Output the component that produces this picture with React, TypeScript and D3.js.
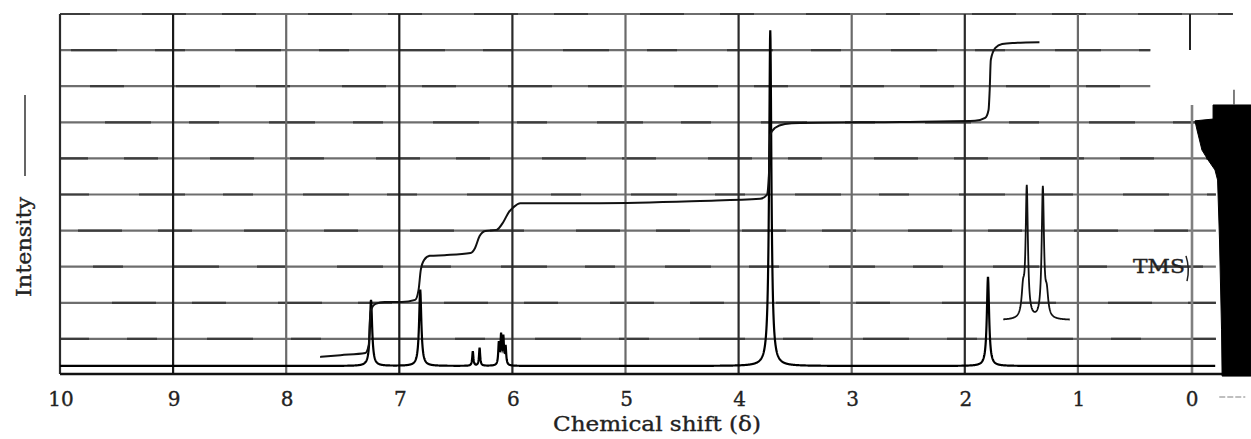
import React from "react";
import * as d3 from "d3";

// ---- data ----
const ppmTicks = [10, 9, 8, 7, 6, 5, 4, 3, 2, 1, 0];
const gridLevels = [1, 2, 3, 4, 5, 6, 7, 8, 9, 10];
const spectrumBaseline = 0.25;

// main spectrum peaks (ppm, height above baseline, half width in ppm)
const peakPpm = [7.25, 6.815, 6.35, 6.29, 6.12, 6.1, 6.08, 6.06, 3.72, 1.795];
const peakHeight = [1.83, 2.1, 0.4, 0.5, 0.6, 0.8, 0.75, 0.5, 9.3, 2.46];
const peakWidth = [0.012, 0.012, 0.006, 0.006, 0.006, 0.006, 0.006, 0.006, 0.012, 0.012];

// expanded inset multiplet
const insetRange = [1.66, 1.07];
const insetBaseline = 1.52;
const insetPpm = [1.452, 1.31, 1.485, 1.275];
const insetHeight = [3.6, 3.6, 0.7, 0.6];
const insetWidth = [0.012, 0.012, 0.015, 0.015];

// integral trace
const integralPpm = [7.7, 7.52, 7.3, 7.27, 7.26, 7.25, 7.21, 7.13, 6.98, 6.86, 6.83, 6.81, 6.78, 6.73, 6.6, 6.37, 6.33, 6.29, 6.24, 6.14, 6.08, 6.03, 5.99, 5.93, 5.23, 4.34, 3.81, 3.75, 3.73, 3.72, 3.68, 3.59, 3.46, 2.57, 1.91, 1.82, 1.79, 1.78, 1.77, 1.73, 1.67, 1.56, 1.34];
const integralValue = [0.5, 0.55, 0.61, 0.83, 1.52, 1.8, 1.97, 2.02, 2.02, 2.08, 2.35, 2.91, 3.19, 3.3, 3.32, 3.38, 3.52, 3.85, 3.99, 4.02, 4.24, 4.52, 4.65, 4.76, 4.76, 4.82, 4.88, 4.99, 5.68, 6.65, 6.84, 6.95, 6.98, 7.01, 7.04, 7.12, 7.34, 7.89, 8.73, 9.06, 9.17, 9.2, 9.22];

// dark recorder-overflow region right of TMS (outline, clockwise)
const shadePpm = [-0.195, -0.53, -0.53, -0.275, -0.27, -0.252, -0.235, -0.212, -0.15, -0.097, -0.053, -0.035, -0.195];
const shadeValue = [7.48, 7.48, -0.03, -0.03, 1.25, 3.74, 5.4, 5.68, 5.96, 6.23, 6.79, 7.04, 7.09];

const xTitle = "Chemical shift (δ)";
const yTitle = "Intensity";
const tmsLabel = "TMS";

const W = 1251;
const H = 439;

export default function App() {
  const x = d3.scaleLinear().domain([10, 0]).range([60, 1191]);
  const y = d3.scaleLinear().domain([0, 10]).range([375, 14]);

  const lorentz = (p: number, ps: number[], hs: number[], ws: number[]) =>
    ps.reduce((s, c, i) => s + (hs[i] * ws[i] * ws[i]) / ((p - c) * (p - c) + ws[i] * ws[i]), 0);

  const samples = d3.range(10, -0.215, -0.002);
  const spec = samples.map((p) => [p, spectrumBaseline + lorentz(p, peakPpm, peakHeight, peakWidth)] as [number, number]);
  const insetSamples = d3.range(insetRange[0], insetRange[1], -0.002);
  const inset = insetSamples.map((p) => [p, insetBaseline + lorentz(p, insetPpm, insetHeight, insetWidth)] as [number, number]);

  const line = d3
    .line<[number, number]>()
    .x((d) => x(d[0]))
    .y((d) => y(d[1]));
  const smooth = d3
    .line<[number, number]>()
    .x((d) => x(d[0]))
    .y((d) => y(d[1]))
    .curve(d3.curveMonotoneX);

  const integral = integralPpm.map((p, i) => [p, integralValue[i]] as [number, number]);
  const shade = shadePpm.map((p, i) => [p, shadeValue[i]] as [number, number]);

  const left = x(10);
  const axisY = y(0) - 1;
  const font = "'DejaVu Serif', serif";
  const textStyle = { stroke: "#222", strokeWidth: 0.35 };

  return (
    <svg width={W} height={H} style={{ position: "absolute", left: 0, top: 0, background: "#fff" }}>
      <rect x={0} y={0} width={W} height={H} fill="#fff" />
      {/* horizontal grid: gray base plus slightly darker pen segments */}
      {gridLevels.map((g) => {
        const x2 = g === 10 ? x(-0.37) : g >= 8 ? x(0.36) : x(-0.22);
        return (
          <g key={"h" + g}>
            <line x1={left} x2={x2} y1={y(g)} y2={y(g)} stroke="#6e6e6e" strokeWidth={2.2} />
            <line
              x1={left}
              x2={x2}
              y1={y(g)}
              y2={y(g)}
              stroke="#3c3c3c"
              strokeWidth={2.2}
              strokeDasharray={g % 2 ? "46,38,30,50" : "34,52,44,36"}
              strokeDashoffset={g * 17}
            />
          </g>
        );
      })}
      {/* vertical grid */}
      {ppmTicks.map((t) =>
        t === 0 ? (
          <g key={"v" + t}>
            <line x1={x(t) + 1} x2={x(t) + 1} y1={y(7.48)} y2={axisY} stroke="#808080" strokeWidth={2.6} />
            <line x1={x(t) - 1} x2={x(t) - 1} y1={y(10)} y2={y(9)} stroke="#222" strokeWidth={2} />
          </g>
        ) : (
          <line
            key={"v" + t}
            x1={x(t)}
            x2={x(t)}
            y1={y(10)}
            y2={axisY}
            stroke={t % 2 === 0 && t !== 8 ? "#2a2a2a" : t === 9 || t === 7 ? "#1a1a1a" : "#6a6a6a"}
            strokeWidth={2.2}
          />
        )
      )}
      {/* bottom axis line */}
      <line x1={left} x2={x(-0.28)} y1={axisY} y2={axisY} stroke="#111" strokeWidth={2.6} />
      {/* spectrum */}
      <path d={line(spec) || ""} fill="none" stroke="#000" strokeWidth={2.2} />
      {/* inset */}
      <path d={line(inset) || ""} fill="none" stroke="#111" strokeWidth={1.8} />
      {/* integral */}
      <path d={smooth(integral) || ""} fill="none" stroke="#111" strokeWidth={2} />
      {/* dark region */}
      <path d={(line(shade) || "") + "Z"} fill="#000" stroke="#000" strokeWidth={1} />
      <line x1={x(-0.38)} x2={x(-0.38)} y1={y(7.9)} y2={y(7.48)} stroke="#555" strokeWidth={1.5} />
      {/* TMS label */}
      <text x={x(0) - 6} y={y(2.83)} fontFamily={font} fontSize={19} textAnchor="end" fill="#222" style={textStyle} textLength={52} lengthAdjust="spacingAndGlyphs">
        {tmsLabel}
      </text>
      <path d={`M${x(0) - 5},${y(3.3)} Q${x(0) - 1},${y(2.95)} ${x(0) - 4},${y(2.6)}`} fill="none" stroke="#222" strokeWidth={1.5} />
      {/* tick labels */}
      {ppmTicks.map((t) => (
        <text key={"t" + t} x={x(t) + 1} y={406} fontFamily={font} fontSize={20} textAnchor="middle" fill="#222" style={textStyle}>
          {t}
        </text>
      ))}
      <line x1={x(-0.25)} x2={x(-0.48)} y1={397} y2={397} stroke="#aaa" strokeWidth={1.5} strokeDasharray="6,2" />
      {/* axis titles */}
      <text x={657} y={431} fontFamily={font} fontSize={20} textAnchor="middle" fill="#222" style={textStyle} textLength={208} lengthAdjust="spacingAndGlyphs">
        {xTitle}
      </text>
      <text transform="translate(31,297) rotate(-90)" x={0} y={0} fontFamily={font} fontSize={20} fill="#222" style={textStyle} textLength={100} lengthAdjust="spacingAndGlyphs">
        {yTitle}
      </text>
      <line x1={25} x2={25} y1={95} y2={176} stroke="#555" strokeWidth={1.8} />
    </svg>
  );
}
